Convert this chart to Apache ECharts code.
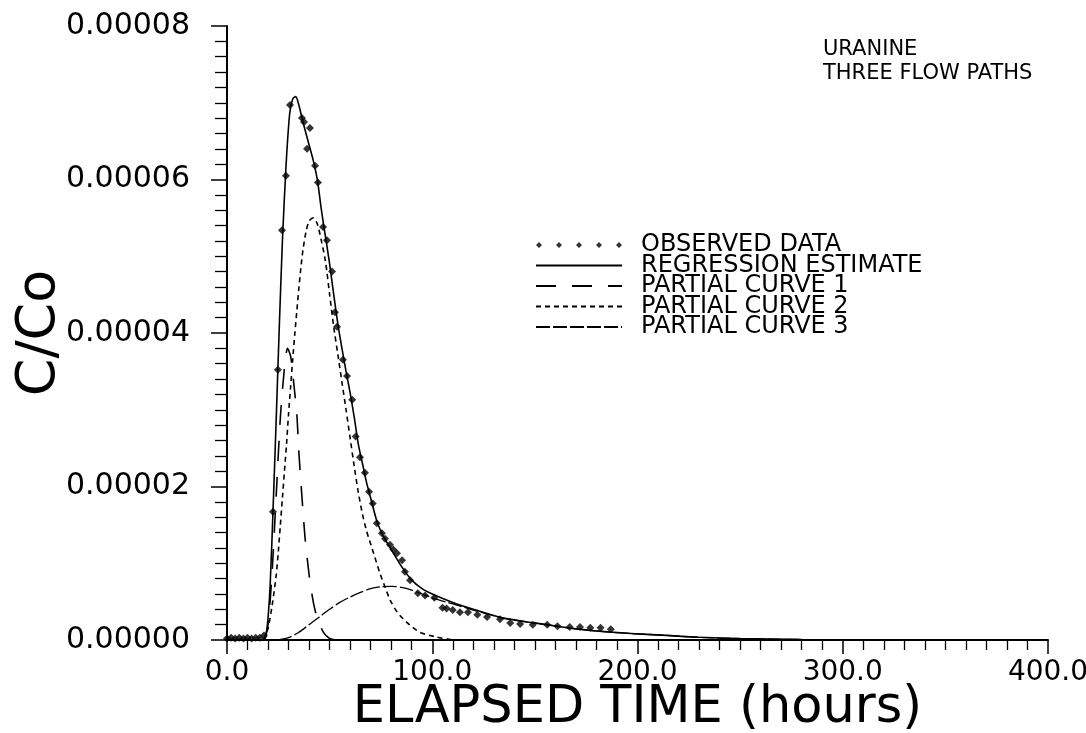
<!DOCTYPE html>
<html>
<head>
<meta charset="utf-8">
<script src="https://cdn.jsdelivr.net/npm/echarts@6/dist/echarts.min.js"></script>
<style>
  html, body { margin: 0; padding: 0; background: #fff; }
  #chart { width: 1086px; height: 733px; }
</style>
</head>
<body>
<div id="chart"></div>
<script>
// values: [hours, C/Co]
const observed = [
  [0, 2e-7], [2, 3e-7], [4, 2e-7], [6, 3e-7], [8, 2e-7], [10, 3e-7], [12, 2e-7], [14, 3e-7], [16, 3e-7], [18, 6e-7],
  [22.4, 1.67e-5], [24.8, 3.52e-5], [26.8, 5.34e-5], [28.7, 6.05e-5], [30.7, 6.97e-5],
  [36.5, 6.8e-5], [37.5, 6.75e-5], [39, 6.4e-5], [40.4, 6.67e-5], [42.9, 6.18e-5], [44.3, 5.96e-5],
  [46.8, 5.38e-5], [48.7, 5.21e-5], [51.2, 4.8e-5], [52.6, 4.27e-5], [53.6, 4.08e-5], [56.5, 3.65e-5],
  [58.5, 3.44e-5], [61, 3.13e-5], [62.7, 2.65e-5], [64.8, 2.38e-5], [67.2, 2.18e-5], [69.2, 1.93e-5],
  [71, 1.78e-5], [73, 1.52e-5], [75.5, 1.39e-5], [77, 1.32e-5], [79.4, 1.24e-5], [81, 1.18e-5],
  [82.8, 1.13e-5], [85.3, 1.04e-5], [86.7, 8.9e-6], [89.2, 7.8e-6], [93, 6.1e-6], [96.5, 5.8e-6],
  [101, 5.5e-6], [105, 4.2e-6], [107, 4.1e-6], [110, 3.9e-6], [113.5, 3.6e-6], [117.4, 3.6e-6],
  [122, 3.3e-6], [126.7, 3.0e-6], [133, 2.7e-6], [138, 2.2e-6], [142.8, 2.1e-6], [149, 2.0e-6],
  [156, 2.0e-6], [161, 1.8e-6], [167, 1.7e-6], [172, 1.7e-6], [177, 1.6e-6], [182, 1.6e-6], [187, 1.4e-6]
];

const regression = [
  [0, 0], [18, 0], [19.5, 1.5e-6], [21, 7e-6], [22.4, 1.67e-5], [24, 2.9e-5], [25.5, 4.1e-5], [27, 5.2e-5],
  [28.7, 6.15e-5], [30.5, 6.85e-5], [32, 7.05e-5], [33.5, 7.08e-5], [35, 6.97e-5], [37, 6.75e-5],
  [40, 6.45e-5], [42, 6.25e-5], [44, 6.0e-5], [46, 5.6e-5], [48, 5.25e-5], [50, 4.9e-5], [52, 4.5e-5],
  [54, 4.12e-5], [56, 3.8e-5], [58, 3.5e-5], [60, 3.22e-5], [62, 2.9e-5], [64, 2.55e-5], [66, 2.3e-5],
  [68, 2.05e-5], [70, 1.85e-5], [73, 1.55e-5], [76, 1.36e-5], [80, 1.18e-5], [85, 9.6e-6], [90, 7.8e-6],
  [95, 6.7e-6], [100, 6.0e-6], [110, 4.9e-6], [120, 4.0e-6], [133, 2.95e-6], [145, 2.4e-6], [157, 1.95e-6],
  [170, 1.45e-6], [188, 1.0e-6], [200, 8e-7], [214, 6e-7], [230, 3.5e-7], [250, 1.8e-7], [280, 6e-8],
  [320, 1e-8], [400, 0]
];

const partial1 = [
  [18, 0], [20, 2e-6], [22, 9e-6], [24, 1.9e-5], [26, 2.9e-5], [28, 3.55e-5], [29.5, 3.8e-5], [31, 3.7e-5],
  [32.5, 3.35e-5], [34, 2.95e-5], [35, 2.45e-5], [36.5, 1.87e-5], [38, 1.34e-5], [40, 8.5e-6], [42, 5e-6],
  [44, 2.8e-6], [47, 1e-6], [50, 2e-7], [53, 0]
];

const partial2 = [
  [18, 0], [20, 1.5e-6], [22, 4.5e-6], [24, 8.5e-6], [25, 1.15e-5], [26, 1.5e-5], [27, 1.85e-5], [28, 2.2e-5],
  [29, 2.55e-5], [30, 2.95e-5], [31, 3.3e-5], [32, 3.65e-5], [33, 3.98e-5], [34, 4.28e-5], [35, 4.58e-5],
  [36, 4.85e-5], [37, 5.08e-5], [38.5, 5.32e-5], [40, 5.46e-5], [42, 5.5e-5], [44, 5.42e-5], [46, 5.2e-5],
  [48, 4.93e-5], [50, 4.5e-5], [52, 4.08e-5], [54, 3.72e-5], [56, 3.36e-5], [58, 3.0e-5], [60, 2.63e-5],
  [62, 2.26e-5], [64, 1.92e-5], [66, 1.64e-5], [68, 1.42e-5], [70, 1.25e-5], [72, 1.08e-5], [74.5, 8.7e-6],
  [77, 6.9e-6], [79.5, 5.2e-6], [83, 3.6e-6], [88, 2.2e-6], [94, 1.0e-6], [102, 4e-7], [110, 0]
];

const partial3 = [
  [25, 0], [30, 3e-7], [35, 1e-6], [40, 2e-6], [45, 3e-6], [50, 4e-6], [55, 4.9e-6], [60, 5.6e-6],
  [65, 6.2e-6], [70, 6.7e-6], [75, 6.95e-6], [80, 7.0e-6], [85, 6.85e-6], [90, 6.5e-6], [95, 6.0e-6],
  [100, 5.5e-6], [110, 4.7e-6], [120, 3.9e-6], [133, 2.95e-6], [145, 2.4e-6], [157, 1.95e-6],
  [170, 1.45e-6], [188, 1.0e-6], [200, 8e-7], [214, 6e-7], [230, 3.5e-7], [250, 1.8e-7], [280, 6e-8],
  [320, 1e-8], [400, 0]
];

const seriesNames = ['OBSERVED DATA', 'REGRESSION ESTIMATE', 'PARTIAL CURVE 1', 'PARTIAL CURVE 2', 'PARTIAL CURVE 3'];
const xRange = [0, 400, 100];
const yRange = [0, 0.00008, 0.00002];

const FONT = 'DejaVu Sans';
// five little diamonds for the observed-data legend sample
const dotsIcon = 'path://M0 3L3 0L6 3L3 6Z M20 3L23 0L26 3L23 6Z M40 3L43 0L46 3L43 6Z M60 3L63 0L66 3L63 6Z M80 3L83 0L86 3L83 6Z';

const chart = echarts.init(document.getElementById('chart'));

const lineSeries = (name, data, type, width) => ({
  name,
  type: 'line',
  data,
  symbol: 'none',
  smooth: 0.25,
  lineStyle: { color: '#000', width, type },
  itemStyle: { color: 'rgba(0,0,0,0)' },
  z: 3
});

const noDot = { opacity: 0 };

chart.setOption({
  animation: false,
  backgroundColor: '#fff',
  title: {
    text: 'URANINE\nTHREE FLOW PATHS',
    left: 818,
    top: 33,
    textStyle: { fontFamily: FONT, fontSize: 21, fontWeight: 'normal', color: '#000', lineHeight: 24 }
  },
  legend: {
    orient: 'vertical',
    left: 530,
    top: 228,
    itemWidth: 86,
    itemHeight: 6,
    itemGap: -3.5,
    textStyle: { fontFamily: FONT, fontSize: 24, color: '#000', padding: [0, 0, 0, 14] },
    data: [
      { name: seriesNames[0], icon: dotsIcon },
      { name: seriesNames[1], itemStyle: noDot },
      { name: seriesNames[2], itemStyle: noDot },
      { name: seriesNames[3], itemStyle: noDot },
      { name: seriesNames[4], itemStyle: noDot }
    ]
  },
  // keep the plot box fixed; labels may sit close to the edge
  grid: { left: 227, right: 38, top: 26, bottom: 93, outerBoundsMode: 'none' },
  xAxis: {
    type: 'value',
    min: xRange[0],
    max: xRange[1],
    interval: xRange[2],
    name: 'ELAPSED TIME (hours)',
    nameLocation: 'middle',
    nameGap: 43,
    nameMoveOverlap: false,
    nameTextStyle: { fontFamily: FONT, fontSize: 51, color: '#000' },
    axisLine: { lineStyle: { color: '#000', width: 2 } },
    axisTick: { length: 14, lineStyle: { color: '#000', width: 1.5 } },
    minorTick: { show: true, splitNumber: 10, length: 10, lineStyle: { color: '#000', width: 1.3 } },
    splitLine: { show: false },
    axisLabel: {
      fontFamily: FONT, fontSize: 28, color: '#000', margin: 19,
      formatter: v => v.toFixed(1)
    }
  },
  yAxis: {
    type: 'value',
    min: yRange[0],
    max: yRange[1],
    interval: yRange[2],
    name: 'C/Co',
    nameLocation: 'middle',
    nameRotate: 90,
    nameGap: 160,
    nameMoveOverlap: false,
    nameTextStyle: { fontFamily: FONT, fontSize: 54, color: '#000' },
    axisLine: { show: true, lineStyle: { color: '#000', width: 2 } },
    axisTick: { show: true, length: 16, lineStyle: { color: '#000', width: 1.5 } },
    minorTick: { show: true, splitNumber: 10, length: 12, lineStyle: { color: '#000', width: 1.3 } },
    splitLine: { show: false },
    axisLabel: {
      fontFamily: FONT, fontSize: 30, color: '#000', margin: 37,
      formatter: v => v.toFixed(5)
    }
  },
  series: [
    {
      name: seriesNames[0],
      type: 'scatter',
      data: observed,
      symbol: 'diamond',
      symbolSize: 8,
      itemStyle: { color: '#000' },
      z: 4
    },
    lineSeries(seriesNames[1], regression, 'solid', 1.6),
    lineSeries(seriesNames[2], partial1, [20, 16], 1.6),
    lineSeries(seriesNames[3], partial2, [5, 4], 1.6),
    lineSeries(seriesNames[4], partial3, [14, 3], 1.3)
  ]
});
</script>
</body>
</html>
